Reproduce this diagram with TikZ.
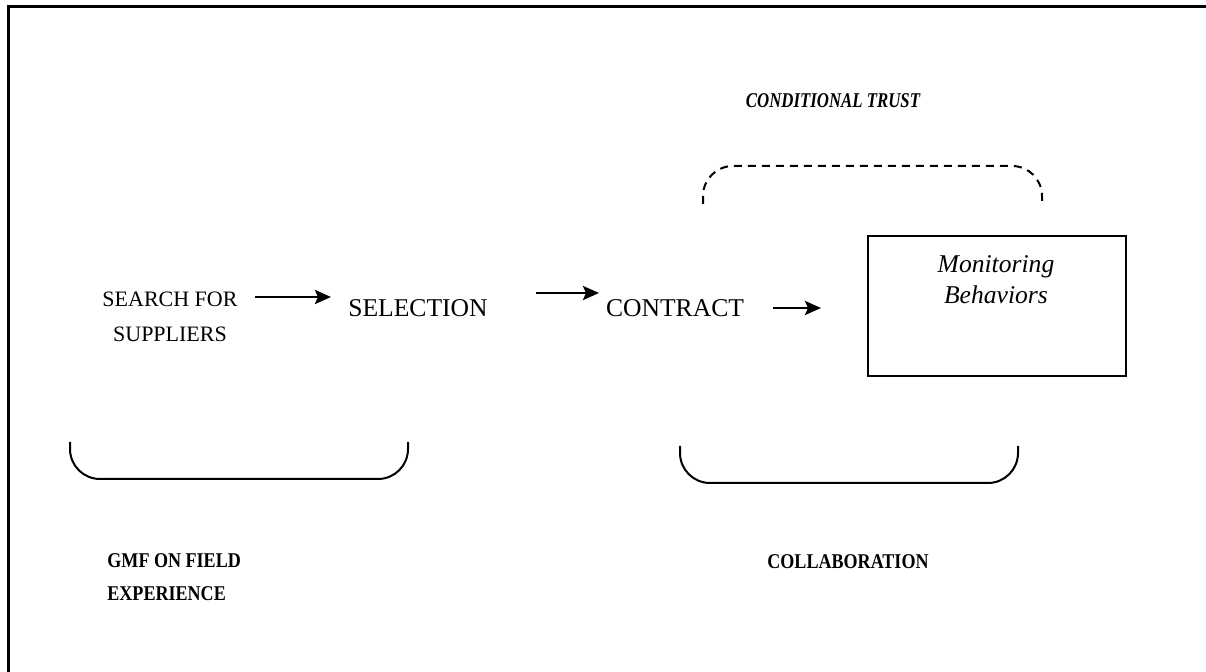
\documentclass[tikz,border=0pt]{standalone}
\usepackage{fontspec}
\setmainfont{Liberation Serif}
\newfontfamily\narrowbf[FakeStretch=0.86]{Liberation Serif Bold}
\newfontfamily\narrowbi[FakeStretch=0.8]{Liberation Serif Bold Italic}
\usetikzlibrary{arrows.meta}
\begin{document}
\begin{tikzpicture}[x=0.5pt,y=-0.5pt,
  lbl/.style={inner sep=0pt,align=center},
  small/.style={font=\fontsize{11}{17.5}\selectfont},
  big/.style={font=\fontsize{12.8}{15}\selectfont},
  boldlbl/.style={font=\fontsize{10.5}{16.5}\selectfont\narrowbf},
  arr/.style={line width=1.4pt,-{Stealth[length=8pt,width=7pt,inset=1.5pt]}},
  brace/.style={line width=1pt,rounded corners=15pt},
  frame/.style={line width=1.5pt}]
\useasboundingbox (0,0) rectangle (1206,672);
% frame (cut at right and bottom)
\coordinate (fr1) at (1206,7);
\coordinate (fr0) at (8,7);
\coordinate (fr2) at (8,672);
\draw[frame] (fr1) -- (fr0) -- (fr2);
% process nodes
\node[lbl,small] (search) at (170,317) {SEARCH FOR\\SUPPLIERS};
\node[lbl,big] (selection) at (418,308) {SELECTION};
\node[lbl,big] (contract) at (675,308) {CONTRACT};
\node[draw,line width=1pt,minimum width=129pt,minimum height=70pt,inner sep=0pt] (mon) at (997,306) {};
\node[lbl,font=\fontsize{12.8}{15.5}\selectfont\itshape] (montext) at (996,280) {Monitoring\\Behaviors};
% arrows
\coordinate (a1s) at (255,297); \coordinate (a1e) at (331,297);
\coordinate (a2s) at (536,293); \coordinate (a2e) at (599,293);
\coordinate (a3s) at (773,308); \coordinate (a3e) at (821,308);
\draw[arr] (a1s) -- (a1e);
\draw[arr] (a2s) -- (a2e);
\draw[arr] (a3s) -- (a3e);
% dashed bracket
\coordinate (d1) at (703,204); \coordinate (d2) at (703,166);
\coordinate (d3) at (1042,166); \coordinate (d4) at (1042,204);
\draw[brace,dash pattern=on 4pt off 3pt] (d1) -- (d2) -- (d3) -- (d4);
\node[lbl,font=\fontsize{10.5}{13}\selectfont\narrowbi] (trust) at (833,101) {CONDITIONAL TRUST};
% lower brackets
\coordinate (l1) at (70,442); \coordinate (l2) at (70,479);
\coordinate (l3) at (408,479); \coordinate (l4) at (408,442);
\draw[brace] (l1) -- (l2) -- (l3) -- (l4);
\coordinate (r1) at (680,446); \coordinate (r2) at (680,483);
\coordinate (r3) at (1018,483); \coordinate (r4) at (1018,446);
\draw[brace] (r1) -- (r2) -- (r3) -- (r4);
\node[lbl,boldlbl,align=left,anchor=west] (gmf) at (107,577) {GMF ON FIELD\\EXPERIENCE};
\node[lbl,boldlbl] (collab) at (848,562) {COLLABORATION};
\end{tikzpicture}
\end{document}
